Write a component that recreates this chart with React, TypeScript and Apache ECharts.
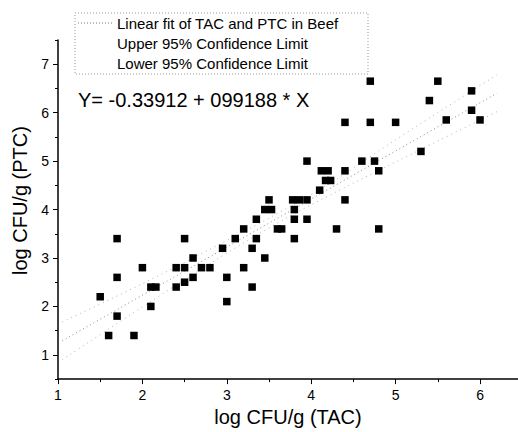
import React, { useEffect, useRef } from "react";
import * as echarts from "echarts";

// TAC (x) vs PTC (y), log CFU/g
const tac = [
  1.5, 1.6, 1.7, 1.7, 1.7, 1.9,
  2.0, 2.1, 2.16, 2.1, 2.4, 2.4, 2.5, 2.5, 2.5, 2.6, 2.6, 2.7, 2.8, 2.95,
  3.0, 3.0, 3.1, 3.2, 3.2, 3.3, 3.3, 3.35, 3.35, 3.45, 3.45, 3.53, 3.5, 3.6, 3.65,
  3.8, 3.8, 3.8, 3.78, 3.86, 3.95, 3.95, 3.95,
  4.1, 4.12, 4.2, 4.17, 4.23, 4.3, 4.4, 4.4, 4.4, 4.6, 4.7, 4.7, 4.75, 4.8, 4.8,
  5.0, 5.3, 5.4, 5.5, 5.6, 5.9, 5.9, 6.0,
];
const ptc = [
  2.2, 1.4, 3.4, 2.6, 1.8, 1.4,
  2.8, 2.4, 2.4, 2.0, 2.8, 2.4, 3.4, 2.8, 2.5, 3.0, 2.6, 2.8, 2.8, 3.2,
  2.6, 2.1, 3.4, 3.6, 2.8, 3.2, 2.4, 3.8, 3.4, 3.0, 4.0, 4.0, 4.2, 3.6, 3.6,
  4.0, 3.8, 3.4, 4.2, 4.2, 4.2, 3.8, 5.0,
  4.4, 4.8, 4.8, 4.6, 4.6, 3.6, 4.2, 4.8, 5.8, 5.0, 5.8, 6.65, 5.0, 4.8, 3.6,
  5.8, 5.2, 6.25, 6.65, 5.85, 6.45, 6.05, 5.85,
];

// fitted line and 95% limits
const fitX = [1.05, 6.2];
const fitY = [1.29, 6.4];
const limitX = [1.05, 2.0, 3.0, 3.6, 4.2, 5.0, 6.2];
const upperY = [1.68, 2.47, 3.36, 3.92, 4.52, 5.44, 6.78];
const lowerY = [0.9, 1.99, 3.1, 3.72, 4.28, 4.98, 6.02];

const xMajor = [1, 2, 3, 4, 5, 6];
const xMinor = [1.5, 2.5, 3.5, 4.5, 5.5];
const yMajor = [1, 2, 3, 4, 5, 6, 7];
const yMinor = [0.5, 1.5, 2.5, 3.5, 4.5, 5.5, 6.5, 7.5];

const legendItems = [
  "Linear fit of TAC and PTC in Beef",
  "Upper 95% Confidence Limit",
  "Lower 95% Confidence Limit",
];
const equation = "Y= -0.33912 + 099188 * X";

const FONT = "Liberation Sans, Arial, sans-serif";

export default function App() {
  const ref = useRef<HTMLDivElement>(null);
  useEffect(() => {
    if (!ref.current) return;
    const chart = echarts.init(ref.current, null, { renderer: "svg" });
    const pts = tac.map((x, i) => [x, ptc[i]]);
    const axisCommon = {
      type: "value",
      splitLine: { show: false },
    };
    chart.setOption({
      animation: false,
      backgroundColor: "#fff",
      grid: { left: 58, right: 0, top: 40, bottom: 45 },
      xAxis: [
        {
          ...axisCommon,
          min: 1,
          max: 6.45,
          position: "bottom",
          axisLine: { lineStyle: { color: "#000", width: 1.5 } },
          axisTick: { length: 3, customValues: xMinor, lineStyle: { color: "#000" } },
          axisLabel: {
            customValues: xMajor,
            color: "#000",
            fontSize: 14,
            fontFamily: FONT,
            margin: 9,
          },
          name: "log CFU/g (TAC)",
          nameLocation: "middle",
          nameGap: 21,
          nameTextStyle: { color: "#000", fontSize: 20, fontFamily: FONT },
        },
        {
          ...axisCommon,
          min: 1,
          max: 6.45,
          position: "bottom",
          axisLine: { show: false },
          axisTick: { length: 5, customValues: xMajor, lineStyle: { color: "#000" } },
          axisLabel: { show: false },
        },
      ],
      yAxis: [
        {
          ...axisCommon,
          min: 0.5,
          max: 7.5,
          position: "left",
          axisLine: { show: true, lineStyle: { color: "#000", width: 1.5 } },
          axisTick: { show: true, length: 3, customValues: yMinor, lineStyle: { color: "#000" } },
          axisLabel: {
            customValues: yMajor,
            color: "#000",
            fontSize: 14,
            fontFamily: FONT,
            margin: 9,
          },
          name: "log CFU/g (PTC)",
          nameLocation: "middle",
          nameGap: 24,
          nameTextStyle: { color: "#000", fontSize: 20, fontFamily: FONT, padding: [0, 0, 0, 18] },
        },
        {
          ...axisCommon,
          min: 0.5,
          max: 7.5,
          position: "left",
          axisLine: { show: false },
          axisTick: { show: true, length: 5, customValues: yMajor, lineStyle: { color: "#000" } },
          axisLabel: { show: false },
        },
      ],
      series: [
        {
          type: "line",
          data: fitX.map((x, i) => [x, fitY[i]]),
          symbol: "none",
          lineStyle: { color: "#8a8a8a", width: 1, type: [1, 3] },
          z: 1,
        },
        {
          type: "line",
          data: limitX.map((x, i) => [x, upperY[i]]),
          symbol: "none",
          smooth: 0.4,
          lineStyle: { color: "#b0b0b0", width: 1, type: [1, 4] },
          z: 1,
        },
        {
          type: "line",
          data: limitX.map((x, i) => [x, lowerY[i]]),
          symbol: "none",
          smooth: 0.4,
          lineStyle: { color: "#b0b0b0", width: 1, type: [1, 4] },
          z: 1,
        },
        {
          type: "scatter",
          data: pts,
          symbol: "rect",
          symbolSize: 7.5,
          itemStyle: { color: "#000", opacity: 1 },
          z: 3,
        },
      ],
      graphic: [
        {
          type: "rect",
          shape: { x: 75, y: 13, width: 293, height: 61 },
          style: { fill: "#fff", stroke: "#9a9a9a", lineWidth: 1, lineDash: [1, 2] },
          z: 10,
        },
        {
          type: "line",
          shape: { x1: 78, y1: 23, x2: 113, y2: 23 },
          style: { stroke: "#777", lineWidth: 1, lineDash: [1, 2] },
          z: 11,
        },
        ...legendItems.map((t, i) => ({
          type: "text",
          x: 117,
          y: 23 + i * 20,
          style: {
            text: t,
            fill: "#000",
            font: `15px ${FONT}`,
            verticalAlign: "middle",
          },
          z: 11,
        })),
        {
          type: "text",
          x: 78,
          y: 100,
          style: {
            text: equation,
            fill: "#000",
            font: `20px ${FONT}`,
            verticalAlign: "middle",
          },
          z: 11,
        },
      ],
    });
    return () => chart.dispose();
  }, []);
  return (
    <div
      ref={ref}
      style={{ position: "fixed", left: 0, top: 0, width: 518, height: 432 }}
    />
  );
}
